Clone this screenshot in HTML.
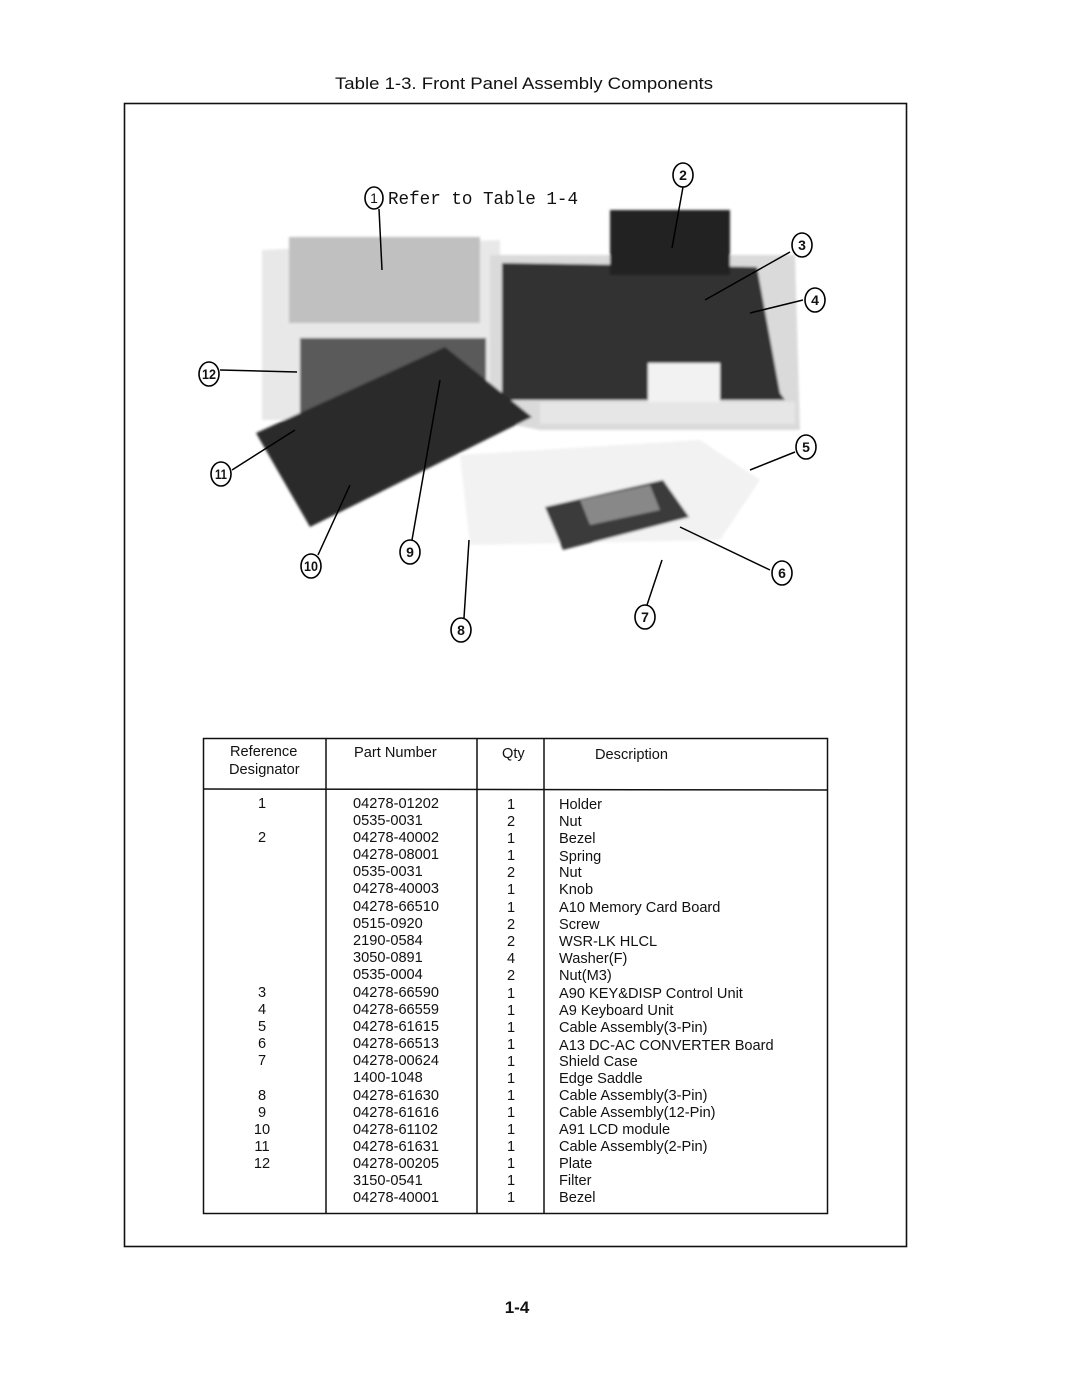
<!DOCTYPE html>
<html><head><meta charset="utf-8"><style>
html,body{margin:0;padding:0;background:#fff;}
svg{display:block;}
text{font-family:"Liberation Sans",sans-serif;fill:#111;}
.t{font-size:14.6px;}
</style></head><body>
<svg width="1080" height="1397" viewBox="0 0 1080 1397" xmlns="http://www.w3.org/2000/svg">
<defs>
<filter id="blur"><feGaussianBlur stdDeviation="1.2"/></filter>
</defs>
<text x="335" y="89" font-size="17" textLength="378" lengthAdjust="spacingAndGlyphs">Table 1-3. Front Panel Assembly Components</text>
<rect x="124.5" y="103.5" width="782" height="1143" fill="none" stroke="#111" stroke-width="1.6"/>

<g filter="url(#blur)">
<polygon points="262,250 500,240 500,420 262,420" fill="#e8e8e8"/>
<polygon points="289,237 480,237 480,323 289,323" fill="#c0c0c0"/>
<polygon points="300,338 486,338 486,414 300,414" fill="#5a5a5a"/>
<polygon points="490,255 795,255 800,430 540,430 490,420" fill="#dadada"/>
<polygon points="502,263 757,267 780,393 785,400 502,400" fill="#333"/>
<polygon points="610,210 730,210 730,275 610,275" fill="#222"/>
<rect x="648" y="363" width="72" height="40" fill="#f2f2f2"/>
<rect x="540" y="402" width="255" height="22" fill="#e6e6e6"/>
<polygon points="256,433 445,347 532,417 310,527" fill="#2c2c2c"/>
<polygon points="460,455 700,440 760,480 720,540 470,545" fill="#f2f2f2"/>
<polygon points="545,507 663,480 689,517 563,550" fill="#3a3a3a"/>
<polygon points="580,500 650,485 660,510 590,525" fill="#888"/>
</g>

<g fill="none" stroke="#000" stroke-width="1.5">
<line x1="379" y1="209" x2="382" y2="270"/>
<line x1="683" y1="187" x2="672" y2="248"/>
<line x1="790" y1="252" x2="705" y2="300"/>
<line x1="803" y1="300" x2="750" y2="313"/>
<line x1="795" y1="452" x2="750" y2="470"/>
<line x1="770" y1="570" x2="680" y2="527"/>
<line x1="647" y1="605" x2="662" y2="560"/>
<line x1="464" y1="618" x2="469" y2="540"/>
<line x1="412" y1="540" x2="440" y2="380"/>
<line x1="318" y1="555" x2="350" y2="485"/>
<line x1="232" y1="470" x2="295" y2="430"/>
<line x1="220" y1="370" x2="297" y2="372"/>
</g>
<g fill="#fff" stroke="#000" stroke-width="1.6">
<ellipse cx="374" cy="198" rx="9" ry="11"/>
<ellipse cx="683" cy="175" rx="10" ry="12"/>
<ellipse cx="802" cy="245" rx="10" ry="12"/>
<ellipse cx="815" cy="300" rx="10" ry="12"/>
<ellipse cx="806" cy="447" rx="10" ry="12"/>
<ellipse cx="782" cy="573" rx="10" ry="12"/>
<ellipse cx="645" cy="617" rx="10" ry="12"/>
<ellipse cx="461" cy="630" rx="10" ry="12"/>
<ellipse cx="410" cy="552" rx="10" ry="12"/>
<ellipse cx="311" cy="566" rx="10" ry="12"/>
<ellipse cx="221" cy="474" rx="10" ry="12"/>
<ellipse cx="209" cy="374" rx="10" ry="12"/>
</g>
<g font-size="14" text-anchor="middle" font-weight="bold">
<text x="374" y="203" font-weight="normal">1</text>
<text x="683" y="180">2</text><text x="802" y="250">3</text><text x="815" y="305">4</text>
<text x="806" y="452">5</text><text x="782" y="578">6</text><text x="645" y="622">7</text>
<text x="461" y="635">8</text><text x="410" y="557">9</text><text x="311" y="571" textLength="14" lengthAdjust="spacingAndGlyphs">10</text>
<text x="221" y="479" textLength="12" lengthAdjust="spacingAndGlyphs">11</text><text x="209" y="379" textLength="14" lengthAdjust="spacingAndGlyphs">12</text>
</g>
<text x="388" y="204" font-size="18" style="font-family:'Liberation Mono',monospace" textLength="190" lengthAdjust="spacingAndGlyphs">Refer to Table 1-4</text>

<g fill="none" stroke="#111" stroke-width="1.5">
<rect x="203.5" y="738.5" width="624" height="475"/>
<line x1="203" y1="789" x2="828" y2="790"/>
<line x1="326" y1="738" x2="326" y2="1213"/>
<line x1="477" y1="738" x2="477" y2="1213"/>
<line x1="544" y1="738" x2="544" y2="1213"/>
</g>
<g class="t">
<text x="230" y="756">Reference</text>
<text x="229" y="774">Designator</text>
<text x="354" y="757">Part Number</text>
<text x="502" y="758">Qty</text>
<text x="595" y="759">Description</text>
</g>
<g class="t">
<text x="262" y="808" text-anchor="middle">1</text>
<text x="262" y="842" text-anchor="middle">2</text>
<text x="262" y="997" text-anchor="middle">3</text>
<text x="262" y="1014" text-anchor="middle">4</text>
<text x="262" y="1031" text-anchor="middle">5</text>
<text x="262" y="1048" text-anchor="middle">6</text>
<text x="262" y="1065" text-anchor="middle">7</text>
<text x="262" y="1100" text-anchor="middle">8</text>
<text x="262" y="1117" text-anchor="middle">9</text>
<text x="262" y="1134" text-anchor="middle">10</text>
<text x="262" y="1151" text-anchor="middle">11</text>
<text x="262" y="1168" text-anchor="middle">12</text>
</g>
<g class="t">
<text x="353" y="808">04278-01202</text><text x="511" y="809" text-anchor="middle">1</text><text x="559" y="809">Holder</text>
<text x="353" y="825">0535-0031</text><text x="511" y="826" text-anchor="middle">2</text><text x="559" y="826">Nut</text>
<text x="353" y="842">04278-40002</text><text x="511" y="843" text-anchor="middle">1</text><text x="559" y="843">Bezel</text>
<text x="353" y="859">04278-08001</text><text x="511" y="860" text-anchor="middle">1</text><text x="559" y="861">Spring</text>
<text x="353" y="876">0535-0031</text><text x="511" y="877" text-anchor="middle">2</text><text x="559" y="877">Nut</text>
<text x="353" y="893">04278-40003</text><text x="511" y="894" text-anchor="middle">1</text><text x="559" y="894">Knob</text>
<text x="353" y="911">04278-66510</text><text x="511" y="912" text-anchor="middle">1</text><text x="559" y="912">A10 Memory Card Board</text>
<text x="353" y="928">0515-0920</text><text x="511" y="929" text-anchor="middle">2</text><text x="559" y="929">Screw</text>
<text x="353" y="945">2190-0584</text><text x="511" y="946" text-anchor="middle">2</text><text x="559" y="946">WSR-LK HLCL</text>
<text x="353" y="962">3050-0891</text><text x="511" y="963" text-anchor="middle">4</text><text x="559" y="963">Washer(F)</text>
<text x="353" y="979">0535-0004</text><text x="511" y="980" text-anchor="middle">2</text><text x="559" y="980">Nut(M3)</text>
<text x="353" y="997">04278-66590</text><text x="511" y="998" text-anchor="middle">1</text><text x="559" y="998">A90 KEY&amp;DISP Control Unit</text>
<text x="353" y="1014">04278-66559</text><text x="511" y="1015" text-anchor="middle">1</text><text x="559" y="1015">A9 Keyboard Unit</text>
<text x="353" y="1031">04278-61615</text><text x="511" y="1032" text-anchor="middle">1</text><text x="559" y="1032">Cable Assembly(3-Pin)</text>
<text x="353" y="1048">04278-66513</text><text x="511" y="1049" text-anchor="middle">1</text><text x="559" y="1050">A13 DC-AC CONVERTER Board</text>
<text x="353" y="1065">04278-00624</text><text x="511" y="1066" text-anchor="middle">1</text><text x="559" y="1066">Shield Case</text>
<text x="353" y="1082">1400-1048</text><text x="511" y="1083" text-anchor="middle">1</text><text x="559" y="1083">Edge Saddle</text>
<text x="353" y="1100">04278-61630</text><text x="511" y="1100" text-anchor="middle">1</text><text x="559" y="1100">Cable Assembly(3-Pin)</text>
<text x="353" y="1117">04278-61616</text><text x="511" y="1117" text-anchor="middle">1</text><text x="559" y="1117">Cable Assembly(12-Pin)</text>
<text x="353" y="1134">04278-61102</text><text x="511" y="1134" text-anchor="middle">1</text><text x="559" y="1134">A91 LCD module</text>
<text x="353" y="1151">04278-61631</text><text x="511" y="1151" text-anchor="middle">1</text><text x="559" y="1151">Cable Assembly(2-Pin)</text>
<text x="353" y="1168">04278-00205</text><text x="511" y="1168" text-anchor="middle">1</text><text x="559" y="1168">Plate</text>
<text x="353" y="1185">3150-0541</text><text x="511" y="1185" text-anchor="middle">1</text><text x="559" y="1185">Filter</text>
<text x="353" y="1202">04278-40001</text><text x="511" y="1202" text-anchor="middle">1</text><text x="559" y="1202">Bezel</text>
</g>
<text x="517" y="1313" font-size="17" font-weight="bold" text-anchor="middle">1-4</text>
</svg>
</body></html>
